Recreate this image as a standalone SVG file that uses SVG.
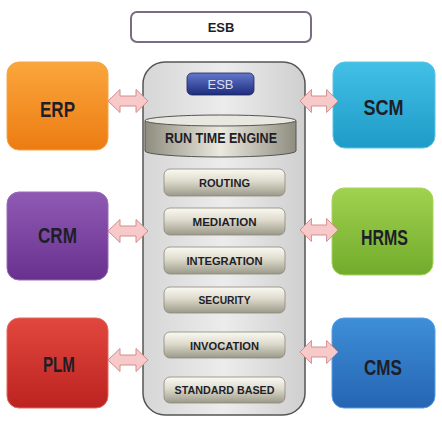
<svg xmlns="http://www.w3.org/2000/svg" width="442" height="422" viewBox="0 0 442 422">
<style>
.lbl{font-family:"Liberation Sans",Arial,sans-serif;font-weight:bold;fill:#1e1e28;text-anchor:middle}
.big{font-size:22px}
.btn{font-size:11px}
.btnbox{stroke:#8a8878;stroke-width:0.8}
.side{stroke-width:1}
.arr{fill:#f8c9c9;stroke:#d48c8c;stroke-width:1}
</style>
<defs>
<linearGradient id="gCont" x1="0" y1="0" x2="1" y2="0">
<stop offset="0" stop-color="#d6d6d6"/><stop offset="0.5" stop-color="#ececec"/><stop offset="1" stop-color="#cfcfcf"/>
</linearGradient>
<linearGradient id="gBtn" x1="0" y1="0" x2="0" y2="1">
<stop offset="0" stop-color="#fbfaf3"/><stop offset="0.45" stop-color="#dedbcd"/><stop offset="1" stop-color="#9b998a"/>
</linearGradient>
<linearGradient id="gCyl" x1="0" y1="0" x2="1" y2="0">
<stop offset="0" stop-color="#8f8d7e"/><stop offset="0.5" stop-color="#ebe9df"/><stop offset="1" stop-color="#8f8d7e"/>
</linearGradient>
<linearGradient id="gBlue" x1="0" y1="0" x2="0" y2="1">
<stop offset="0" stop-color="#6478cc"/><stop offset="1" stop-color="#1d2c7c"/>
</linearGradient>
<linearGradient id="gErp" x1="0" y1="0" x2="0" y2="1"><stop offset="0" stop-color="#faa63c"/><stop offset="1" stop-color="#ec7c12"/></linearGradient>
<linearGradient id="gScm" x1="0" y1="0" x2="0" y2="1"><stop offset="0" stop-color="#43c0e6"/><stop offset="1" stop-color="#1e9bc7"/></linearGradient>
<linearGradient id="gCrm" x1="0" y1="0" x2="0" y2="1"><stop offset="0" stop-color="#8f5ab4"/><stop offset="1" stop-color="#68318e"/></linearGradient>
<linearGradient id="gHrms" x1="0" y1="0" x2="0" y2="1"><stop offset="0" stop-color="#a0d24e"/><stop offset="1" stop-color="#72ab2c"/></linearGradient>
<linearGradient id="gPlm" x1="0" y1="0" x2="0" y2="1"><stop offset="0" stop-color="#e2473e"/><stop offset="1" stop-color="#bc2320"/></linearGradient>
<linearGradient id="gCms" x1="0" y1="0" x2="0" y2="1"><stop offset="0" stop-color="#3e8ed8"/><stop offset="1" stop-color="#2565b2"/></linearGradient>
<path id="dArrow" d="M-20,0 L-8,-11.5 L-8,-5 L8,-5 L8,-11.5 L20,0 L8,11.5 L8,5 L-8,5 L-8,11.5 Z"/>
</defs>
<rect width="442" height="422" fill="#ffffff"/>

<g id="title">
<rect x="131" y="12" width="180" height="30" rx="6" fill="#ffffff" stroke="#7a6c82" stroke-width="2"/>
<text class="lbl" x="221" y="32" font-size="13">ESB</text>
</g>

<g id="esb-container">
<rect x="143" y="62" width="162" height="353" rx="22" fill="url(#gCont)" stroke="#555" stroke-width="1.5"/>
</g>

<g id="esb-badge">
<rect x="187" y="73" width="67" height="22" rx="5" fill="url(#gBlue)" stroke="#1a2460" stroke-width="0.8"/>
<text x="220.5" y="89" font-family="Liberation Sans,Arial,sans-serif" font-size="13" fill="#d8ddf2" text-anchor="middle">ESB</text>
</g>

<g id="run-time-engine">
<path d="M145,120.5 L145,151 A75.5,6 0 0 0 296,151 L296,120.5 Z" fill="url(#gCyl)" stroke="#555" stroke-width="1"/>
<ellipse cx="220.5" cy="120.5" rx="75.5" ry="5.5" fill="#e9e8e0" stroke="#555" stroke-width="1"/>
<text class="lbl" x="221" y="143" font-size="14" textLength="112" lengthAdjust="spacingAndGlyphs">RUN TIME ENGINE</text>
</g>

<g id="routing"><rect class="btnbox" x="164" y="169" width="121" height="27" rx="6" fill="url(#gBtn)"/><text class="lbl btn" x="224.5" y="187" textLength="51" lengthAdjust="spacingAndGlyphs">ROUTING</text></g>
<g id="mediation"><rect class="btnbox" x="164" y="208" width="121" height="27" rx="6" fill="url(#gBtn)"/><text class="lbl btn" x="224.5" y="226" textLength="64" lengthAdjust="spacingAndGlyphs">MEDIATION</text></g>
<g id="integration"><rect class="btnbox" x="164" y="247" width="121" height="27" rx="6" fill="url(#gBtn)"/><text class="lbl btn" x="224.5" y="265" textLength="76" lengthAdjust="spacingAndGlyphs">INTEGRATION</text></g>
<g id="security"><rect class="btnbox" x="164" y="287" width="121" height="26" rx="6" fill="url(#gBtn)"/><text class="lbl btn" x="224.5" y="304" textLength="52" lengthAdjust="spacingAndGlyphs">SECURITY</text></g>
<g id="invocation"><rect class="btnbox" x="164" y="332" width="121" height="26" rx="6" fill="url(#gBtn)"/><text class="lbl btn" x="224.5" y="350" textLength="69" lengthAdjust="spacingAndGlyphs">INVOCATION</text></g>
<g id="standard-based"><rect class="btnbox" x="164" y="377" width="121" height="26" rx="6" fill="url(#gBtn)"/><text class="lbl btn" x="224.5" y="394" textLength="100" lengthAdjust="spacingAndGlyphs">STANDARD BASED</text></g>

<g id="erp"><rect class="side" x="7" y="62" width="101" height="88" rx="12" fill="url(#gErp)" stroke="#f3a650"/><text class="lbl big" x="57.5" y="117" textLength="35" lengthAdjust="spacingAndGlyphs">ERP</text></g>
<g id="scm"><rect class="side" x="333" y="62" width="102" height="86" rx="12" fill="url(#gScm)" stroke="#5cc4e6"/><text class="lbl big" x="383.5" y="115" textLength="40" lengthAdjust="spacingAndGlyphs">SCM</text></g>
<g id="crm"><rect class="side" x="7" y="192" width="101" height="88" rx="12" fill="url(#gCrm)" stroke="#9a6ab8"/><text class="lbl big" x="57.5" y="243" textLength="39" lengthAdjust="spacingAndGlyphs">CRM</text></g>
<g id="hrms"><rect class="side" x="332" y="188" width="101" height="87" rx="12" fill="url(#gHrms)" stroke="#a8d460"/><text class="lbl big" x="384.5" y="245" textLength="47" lengthAdjust="spacingAndGlyphs">HRMS</text></g>
<g id="plm"><rect class="side" x="7" y="318" width="101" height="90" rx="12" fill="url(#gPlm)" stroke="#e26a60"/><text class="lbl big" x="59" y="372" textLength="32" lengthAdjust="spacingAndGlyphs">PLM</text></g>
<g id="cms"><rect class="side" x="332" y="318" width="103" height="90" rx="12" fill="url(#gCms)" stroke="#5a9ee0"/><text class="lbl big" x="383" y="375" textLength="38" lengthAdjust="spacingAndGlyphs">CMS</text></g>

<g id="connectors">
<use href="#dArrow" class="arr" transform="translate(128,101)"/>
<use href="#dArrow" class="arr" transform="translate(319,101) scale(0.95,1)"/>
<use href="#dArrow" class="arr" transform="translate(128,231)"/>
<use href="#dArrow" class="arr" transform="translate(319,230) scale(0.95,1)"/>
<use href="#dArrow" class="arr" transform="translate(128,360)"/>
<use href="#dArrow" class="arr" transform="translate(319,352) scale(0.95,1)"/>
</g>
</svg>
